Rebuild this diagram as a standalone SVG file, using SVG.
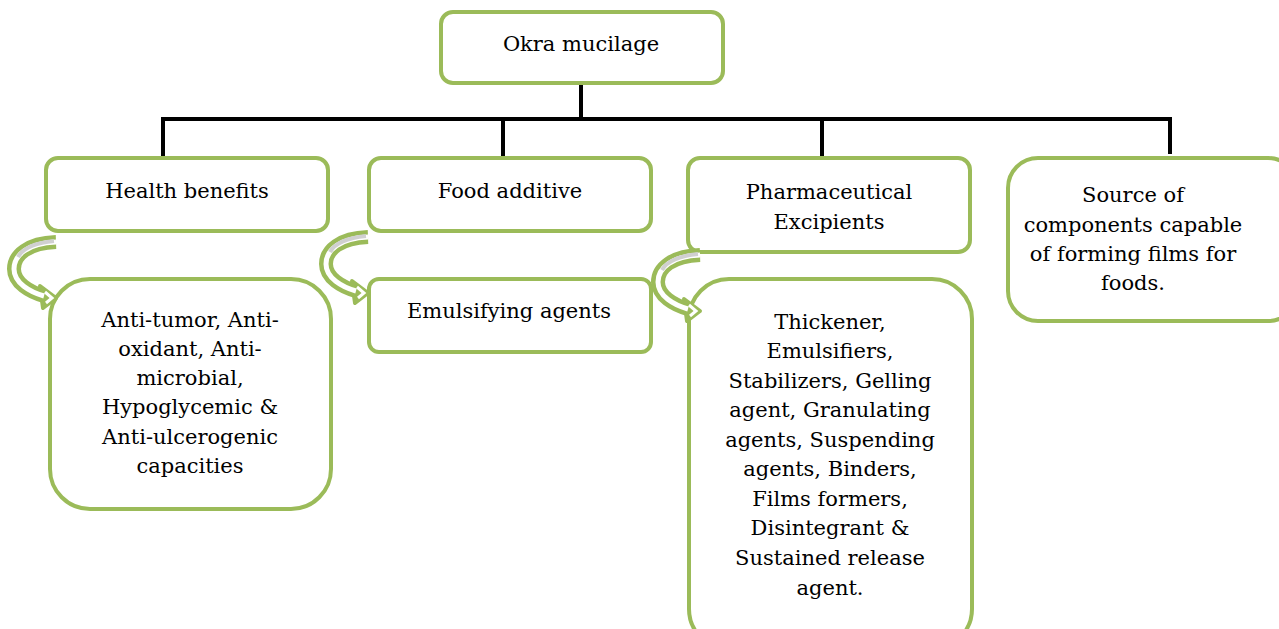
<svg xmlns="http://www.w3.org/2000/svg" width="1279" height="629" viewBox="0 0 1279 629">
<style>
.box{fill:#fff;stroke:#9BBB59;stroke-width:4}
.t{font-family:"DejaVu Serif","Liberation Serif",serif;font-size:21px;fill:#000;text-anchor:middle}
.ln{stroke:#000;stroke-width:4;fill:none}
.ao{fill:none;stroke:#9BBB59;stroke-width:14;stroke-linecap:butt}
.ai{fill:none;stroke:#fff;stroke-width:5}
</style>
<defs>
<g id="carrow">
<path class="ao" d="M46,7 C18,8 4,20 4,34 C4,48 20,57 34,61"/>
<path d="M30,51 L46,63 L33,73 Z" fill="#9BBB59" stroke="#9BBB59" stroke-width="4" stroke-linejoin="round"/>
<path class="ai" d="M46,7 C18,8 4,20 4,34 C4,48 20,57 34,61"/>
<path d="M35,57 L42,63 L36,68" fill="none" stroke="#fff" stroke-width="3"/>
<path d="M44,6 C25,8 13,13 8,22" fill="none" stroke="#d0d0d0" stroke-width="4"/>
</g>
</defs>
<g id="connectors">
<path class="ln" d="M581,83 V119 M161,119 H1172 M163,119 V158 M503,119 V158 M822,119 V158 M1170,119 V154"/>
</g>
<g id="n-root"><rect class="box" x="441" y="12" width="282" height="71" rx="12"/><text class="t" x="581" y="51">Okra mucilage</text></g>
<g id="n-health"><rect class="box" x="46" y="158" width="282" height="73" rx="12"/><text class="t" x="187" y="198">Health benefits</text></g>
<g id="n-food"><rect class="box" x="369" y="158" width="282" height="73" rx="12"/><text class="t" x="510" y="198">Food additive</text></g>
<g id="n-pharma"><rect class="box" x="688" y="158" width="282" height="94" rx="12"/><text class="t" x="829" y="199">Pharmaceutical</text><text class="t" x="829" y="229">Excipients</text></g>
<g id="n-source"><rect class="box" x="1008" y="158" width="290" height="163" rx="30"/><text class="t" x="1133" y="202">Source of</text><text class="t" x="1133" y="232">components capable</text><text class="t" x="1133" y="261">of forming films for</text><text class="t" x="1133" y="290">foods.</text></g>
<g id="n-antitumor"><rect class="box" x="50" y="279" width="281" height="230" rx="40"/>
<text class="t" x="190" y="327">Anti-tumor, Anti-</text><text class="t" x="190" y="356">oxidant, Anti-</text><text class="t" x="190" y="385">microbial,</text><text class="t" x="190" y="414">Hypoglycemic &amp;</text><text class="t" x="190" y="444">Anti-ulcerogenic</text><text class="t" x="190" y="473">capacities</text></g>
<g id="n-emuls"><rect class="box" x="369" y="279" width="282" height="73" rx="10"/><text class="t" x="509" y="318">Emulsifying agents</text></g>
<g id="n-thick"><rect class="box" x="689" y="279" width="283" height="370" rx="40"/>
<text class="t" x="830" y="329">Thickener,</text><text class="t" x="830" y="358">Emulsifiers,</text><text class="t" x="830" y="388">Stabilizers, Gelling</text><text class="t" x="830" y="417">agent, Granulating</text><text class="t" x="830" y="447">agents, Suspending</text><text class="t" x="830" y="476">agents, Binders,</text><text class="t" x="830" y="506">Films formers,</text><text class="t" x="830" y="535">Disintegrant &amp;</text><text class="t" x="830" y="565">Sustained release</text><text class="t" x="830" y="595">agent.</text></g>
<g id="arrows">
<use href="#carrow" x="10" y="235"/>
<use href="#carrow" x="322" y="230"/>
<use href="#carrow" x="654" y="248"/>
</g>
</svg>
